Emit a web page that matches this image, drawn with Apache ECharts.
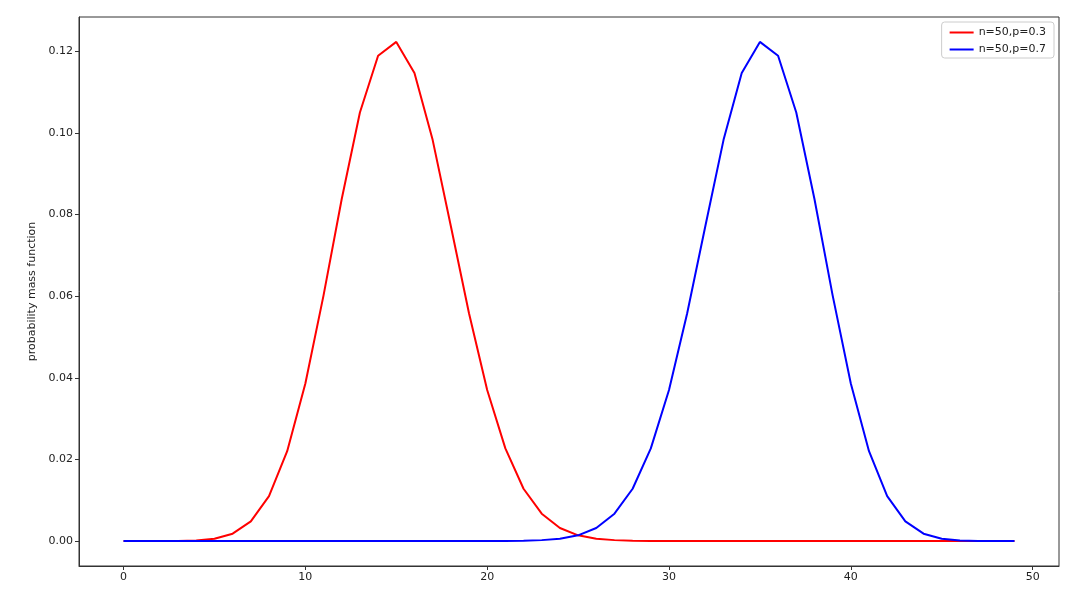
<!DOCTYPE html>
<html>
<head>
<meta charset="utf-8">
<script src="https://cdn.jsdelivr.net/npm/echarts@6/dist/echarts.min.js"></script>
<style>
  html, body { margin: 0; padding: 0; background: #fff; }
  #myChart { width: 1080px; height: 595px; }
</style>
</head>
<body>
<div id="myChart"></div>
<script>
// x values 0..49
var xs = [0,1,2,3,4,5,6,7,8,9,10,11,12,13,14,15,16,17,18,19,20,21,22,23,24,25,26,27,28,29,30,31,32,33,34,35,36,37,38,39,40,41,42,43,44,45,46,47,48,49];

// n=50, p=0.3
var redVals = [0,0,0.000004,0.000028,0.00014,0.00055,0.0018,0.0048,0.0110,0.0220,
  0.0386,0.0602,0.0838,0.1050,0.1189,0.1223,0.1147,0.0983,0.0772,0.0558,
  0.0370,0.0227,0.0128,0.0067,0.0032,0.0014,0.00058,0.00022,0.000077,0.000025,
  0.0000075,0.000002,0,0,0,0,0,0,0,0,
  0,0,0,0,0,0,0,0,0,0];

// n=50, p=0.7
var blueVals = [0,0,0,0,0,0,0,0,0,0,
  0,0,0,0,0,0,0,0,0,0.000002,
  0.0000075,0.000025,0.000077,0.00022,0.00058,0.0014,0.0032,0.0067,0.0128,0.0227,
  0.0370,0.0558,0.0772,0.0983,0.1147,0.1223,0.1189,0.1050,0.0838,0.0602,
  0.0386,0.0220,0.0110,0.0048,0.0018,0.00055,0.00014,0.000028,0.000004,0];

var xTicks = [0, 10, 20, 30, 40, 50];
var yTicks = [0, 0.02, 0.04, 0.06, 0.08, 0.10, 0.12];

function pairs(vals) {
  return xs.map(function (x, i) { return [x, vals[i]]; });
}

var font = 'DejaVu Sans';
var axisLine = { show: true, onZero: false, lineStyle: { color: '#333', width: 1 } };

var myChart = echarts.init(document.getElementById('myChart'));
myChart.setOption({
  animation: false,
  textStyle: { fontFamily: font },
  grid: { left: 79, top: 17, right: 21, bottom: 29, show: true, borderColor: '#333', borderWidth: 1 },
  legend: {
    right: 26, top: 22, orient: 'vertical',
    backgroundColor: '#fff', borderColor: '#ccc', borderWidth: 1, borderRadius: 3,
    padding: [5, 8, 3, 8], itemGap: 6, itemWidth: 24, itemHeight: 2,
    textStyle: { fontFamily: font, fontSize: 11, color: '#222' },
    data: [
      { name: 'n=50,p=0.3', icon: 'rect', itemStyle: { color: 'red' } },
      { name: 'n=50,p=0.7', icon: 'rect', itemStyle: { color: 'blue' } }
    ]
  },
  xAxis: {
    type: 'value', min: -2.45, max: 51.45,
    splitLine: { show: false },
    axisLine: axisLine,
    axisTick: { show: true, length: 4, customValues: xTicks, lineStyle: { color: '#333' } },
    axisLabel: { customValues: xTicks, fontSize: 11, color: '#222', margin: 6, fontFamily: font }
  },
  yAxis: {
    type: 'value', min: -0.00612, max: 0.1284,
    name: 'probability mass function', nameLocation: 'middle', nameGap: 37, nameRotate: 90,
    nameTextStyle: { fontSize: 11, color: '#222', fontFamily: font },
    splitLine: { show: false },
    axisLine: axisLine,
    axisTick: { show: true, length: 4, customValues: yTicks, lineStyle: { color: '#333' } },
    axisLabel: {
      customValues: yTicks, fontSize: 11, color: '#222', margin: 6, fontFamily: font,
      formatter: function (v) { return v.toFixed(2); }
    }
  },
  series: [
    {
      name: 'n=50,p=0.3', type: 'line', data: pairs(redVals),
      showSymbol: false, lineStyle: { color: 'red', width: 2 }, itemStyle: { color: 'red' }
    },
    {
      name: 'n=50,p=0.7', type: 'line', data: pairs(blueVals),
      showSymbol: false, lineStyle: { color: 'blue', width: 2 }, itemStyle: { color: 'blue' }
    }
  ]
});
</script>
</body>
</html>
